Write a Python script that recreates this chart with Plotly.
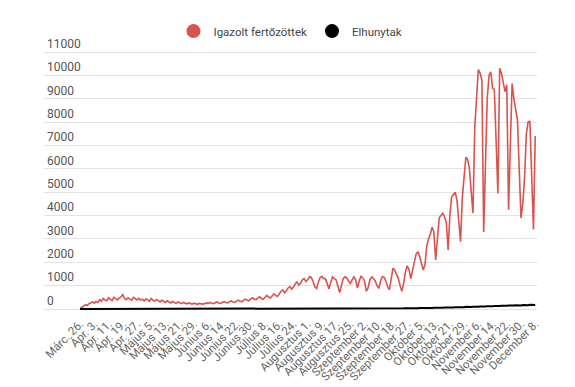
import plotly.graph_objects as go

tick_labels = ["Márc. 26.", "Ápr. 3.", "Ápr. 11.", "Ápr. 19.", "Ápr. 27.", "Május 5.", "Május 13.",
               "Május 21.", "Május 29.", "Június 6.", "Június 14.", "Június 22.", "Június 30.",
               "Július 8.", "Július 16.", "Július 24.", "Augusztus 1.", "Augusztus 9.", "Augusztus 17.",
               "Augusztus 25.", "Szeptember 2.", "Szeptember 10.", "Szeptember 18.", "Szeptember 27.",
               "Október 5.", "Október 13.", "Október 21.", "Október 29.", "November 6.", "November 14.",
               "November 22.", "November 30.", "December 8."]

cases = [
    20, 60, 120, 180, 150, 230, 260, 300, 250, 320,
    280, 400, 330, 450, 380, 350, 480, 420, 360, 500,
    430, 390, 470, 520, 620, 450, 400, 480, 420, 380,
    500, 440, 390, 460, 380, 420, 350, 430, 400, 330,
    450, 380, 340, 410, 360, 300, 380, 330, 280, 350,
    300, 260, 320, 280, 240, 300, 270, 230, 280, 250,
    220, 260, 240, 210, 250, 230, 200, 240, 220, 210,
    230, 260, 240, 280, 250, 230, 270, 300, 260, 240,
    290, 320, 280, 260, 310, 350, 300, 280, 340, 380,
    330, 310, 380, 420, 370, 350, 430, 480, 420, 400,
    470, 520, 450, 420, 500, 580, 510, 470, 560, 650,
    580, 540, 640, 760, 820, 700, 780, 900, 960, 850,
    940, 1080, 1150, 1020, 1100, 1250, 1300, 1180, 1250, 1380,
    1350, 1200, 950, 880, 1150, 1350, 1400, 1300, 1300, 1050,
    860, 1150, 1370, 1300, 1250, 980, 700, 1000, 1300, 1380,
    1320, 1200, 1090, 1250, 1380, 1250, 900, 1200, 1400, 1330,
    1200, 760, 900, 1250, 1370, 1300, 1200, 1000, 880, 1200,
    1390, 1350, 1200, 950, 820, 1300, 1750, 1650, 1500, 1300,
    1000, 760, 1100, 1600, 1850, 1700, 1300, 1650, 2000, 2350,
    2450, 2250, 1950, 1670, 1900, 2700, 3000, 3200, 3500, 3300,
    2100, 3000, 3900, 4000, 4100, 3950, 3700, 2530, 4000, 4800,
    4900, 5000, 4650, 3700, 2880, 4800, 5700, 6500, 6400, 6000,
    5000, 4100, 7800, 9200, 10250, 10100, 9800, 3300, 6000, 9000,
    10000, 10150, 9450, 9400, 7200, 4950, 10300, 10100, 9700, 9300,
    9600, 4250, 7000, 9650, 9000, 8500, 8100, 6000, 3900, 4500,
    5600, 7500, 8000, 8050, 6000, 3400, 7400,
]

deaths = [
    1, 1, 3, 2, 2, 2, 4, 6, 5, 4,
    6, 9, 8, 13, 14, 11, 12, 14, 14, 12,
    13, 10, 12, 10, 14, 12, 11, 13, 10, 12,
    9, 11, 8, 10, 9, 7, 8, 6, 8, 10,
    7, 9, 6, 5, 8, 6, 4, 7, 5, 3,
    5, 4, 3, 4, 2, 3, 2, 4, 1, 2,
    2, 1, 3, 1, 2, 1, 0, 2, 1, 1,
    0, 1, 2, 0, 1, 1, 0, 1, 0, 2,
    1, 0, 1, 1, 0, 2, 1, 0, 1, 0,
    1, 0, 1, 0, 1, 2, 0, 1, 0, 1,
    0, 1, 1, 0, 2, 0, 1, 0, 1, 1,
    0, 1, 0, 2, 1, 0, 1, 1, 0, 1,
    1, 0, 2, 1, 1, 0, 1, 2, 1, 0,
    2, 1, 3, 2, 1, 4, 2, 3, 5, 3,
    4, 6, 5, 7, 4, 8, 6, 9, 7, 10,
    8, 12, 9, 11, 14, 10, 13, 15, 12, 16,
    14, 18, 15, 12, 17, 20, 16, 19, 22, 18,
    21, 24, 20, 23, 26, 22, 25, 28, 24, 30,
    27, 32, 29, 34, 30, 36, 33, 38, 35, 40,
    37, 42, 39, 45, 41, 48, 44, 52, 47, 55,
    50, 58, 54, 62, 57, 65, 60, 70, 66, 74,
    69, 78, 73, 82, 77, 86, 80, 91, 85, 95,
    90, 100, 94, 105, 98, 110, 104, 116, 108, 120,
    112, 125, 118, 130, 122, 135, 127, 140, 132, 145,
    137, 150, 142, 155, 147, 160, 150, 165, 155, 170,
    160, 175, 165, 180, 170, 185, 175,
]

y_ticks = list(range(0, 11001, 1000))

RED = "#d9534f"
BLACK = "#000000"

x = list(range(len(cases)))
tick_positions = list(range(0, len(cases), 8))

fig = go.Figure()
fig.add_trace(go.Scatter(x=x, y=cases, mode="lines", line=dict(color=RED, width=1.6),
                         showlegend=False, hoverinfo="skip"))
fig.add_trace(go.Scatter(x=x, y=deaths, mode="lines", line=dict(color=BLACK, width=2),
                         showlegend=False, hoverinfo="skip"))
# legend entries
fig.add_trace(go.Scatter(x=[None], y=[None], mode="markers", name="Igazolt fertőzöttek",
                         marker=dict(color=RED, size=14, symbol="circle")))
fig.add_trace(go.Scatter(x=[None], y=[None], mode="markers", name="Elhunytak",
                         marker=dict(color=BLACK, size=14, symbol="circle")))

# page body has an 8px default margin, so the figure is 8px smaller and offset
fig.update_layout(
    width=567, height=379,
    margin=dict(l=36, r=38, t=35, b=73, autoexpand=False),
    paper_bgcolor="white", plot_bgcolor="white",
    font=dict(family="Roboto, sans-serif", color="#555555", size=12),
    legend=dict(orientation="h", x=0.5, xanchor="center", y=1.044, yanchor="middle",
                font=dict(size=11.5, color="#444444"), itemwidth=30, bgcolor="rgba(0,0,0,0)"),
    xaxis=dict(range=[-20.3, 257], tickmode="array", tickvals=tick_positions,
               ticktext=tick_labels, tickangle=-45, showgrid=False, zeroline=False,
               showline=False, ticks="", ticklabeloverflow="allow",
               tickfont=dict(size=11.5, color="#666666")),
    yaxis=dict(range=[-214, 11385], tickmode="array", tickvals=y_ticks,
               ticktext=[str(v) for v in y_ticks], ticklabelposition="inside top",
               ticklabeloverflow="allow",
               showgrid=True, gridcolor="#e2e2e2", gridwidth=1, zeroline=False,
               showline=False, ticks="", tickfont=dict(size=12, color="#555555")),
)

fig.write_html("out.html")
